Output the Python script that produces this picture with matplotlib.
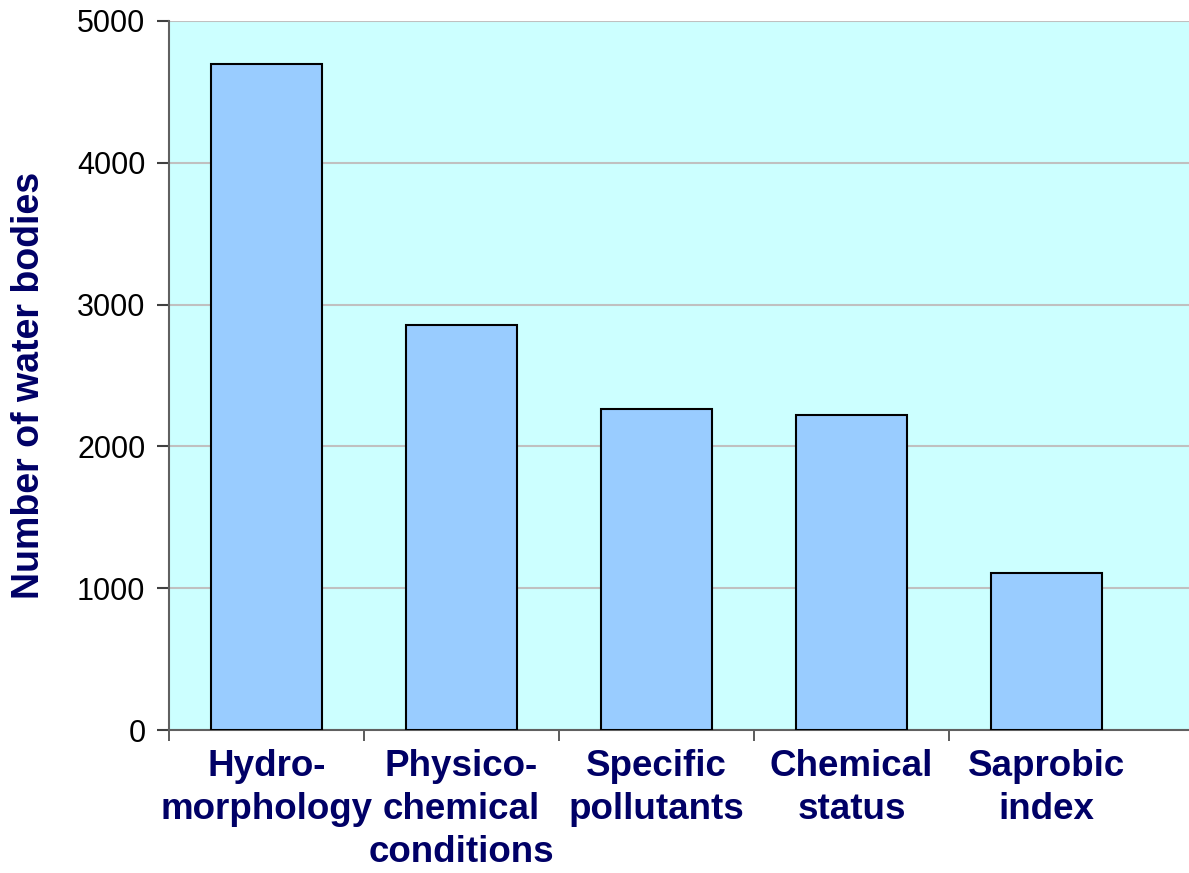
import matplotlib
matplotlib.use("Agg")
import matplotlib.pyplot as plt
import numpy as np

categories = ["Hydro-\nmorphology", "Physico-\nchemical\nconditions",
              "Specific\npollutants", "Chemical\nstatus", "Saprobic\nindex"]
water_bodies = [4700, 2855, 2262, 2220, 1105]
y_ticks = [0, 1000, 2000, 3000, 4000, 5000]

plt.rcParams['font.family'] = ['Liberation Sans', 'DejaVu Sans']

W, H = 1189, 873
fig = plt.figure(figsize=(W / 100, H / 100), dpi=100)
ax = fig.add_axes([169 / W, 1 - 730 / H, 1 - 169 / W, (730 - 21) / H])
ax.set_facecolor('#ccffff')

x = np.arange(len(categories))
ax.bar(x, water_bodies, width=0.57, color='#99ccff', edgecolor='black',
       linewidth=1.5, zorder=3)

ax.set_ylim(0, 5000)
ax.set_xlim(-0.5, 4.73)
ax.set_yticks(y_ticks)
ax.set_yticklabels([str(v) for v in y_ticks], fontsize=22)
ax.yaxis.grid(True, color='#c0c0c0', linewidth=1.5, zorder=0)

# category labels at centres, tick marks at category boundaries
ax.set_xticks(x)
ax.set_xticklabels(categories, fontsize=26.5, fontweight='bold', color='#000066',
                   linespacing=1.29)
ax.tick_params(axis='x', which='major', length=0, pad=14)
ax.set_xticks(np.arange(-0.5, len(categories) - 1), minor=True)
ax.tick_params(axis='x', which='minor', length=8, width=1.2, color='#404040')
ax.tick_params(axis='y', length=9, width=1.5, color='#404040', pad=8)

fig.text(29 / W, 1 - 385 / H, "Number of water bodies", rotation=90,
         ha='center', va='center', fontsize=27, fontweight='bold',
         color='#000066')

for side in ('top', 'right'):
    ax.spines[side].set_visible(False)
ax.spines['left'].set_color('#606060')
ax.spines['left'].set_linewidth(1.5)
ax.spines['bottom'].set_color('#606060')
ax.spines['bottom'].set_linewidth(1.5)

fig.savefig("out.png", dpi=100)
